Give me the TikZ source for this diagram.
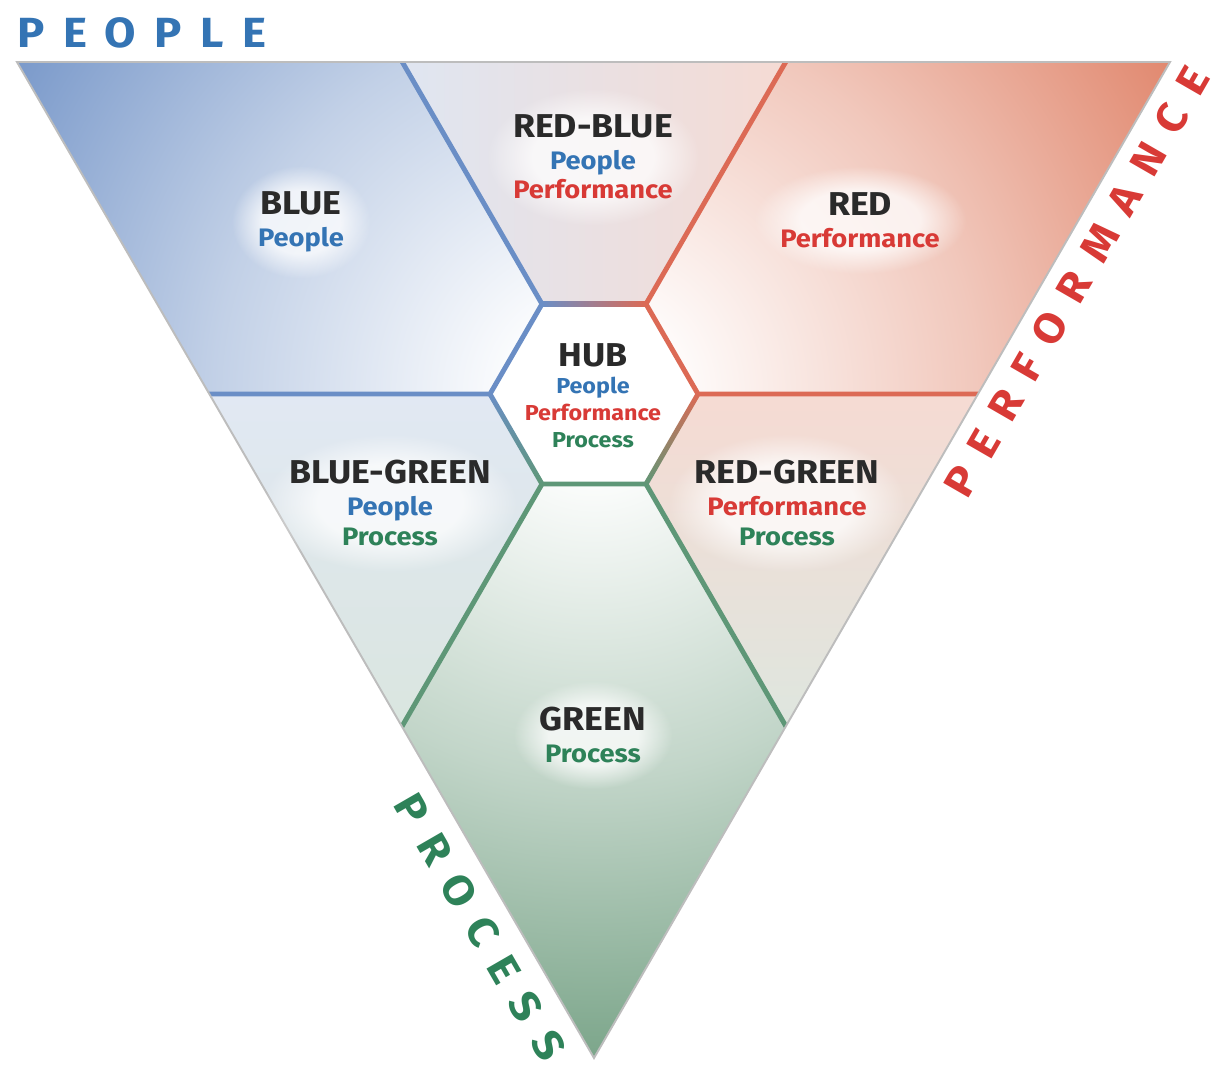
\documentclass[tikz,border=0pt]{standalone}
\usepackage{fontspec}
\setmainfont{Fira Sans}[FakeStretch=1.08]
\newfontfamily\spacedfont{Fira Sans}[FakeStretch=1.08,LetterSpace=44]
\usetikzlibrary{calc,fadings}

\definecolor{darktext}{HTML}{2A2A2A}
\definecolor{peopletext}{HTML}{3474B4}
\definecolor{perftext}{HTML}{D83A36}
\definecolor{proctext}{HTML}{2E8259}
\definecolor{lineblue}{HTML}{6A8EC6}
\definecolor{linered}{HTML}{DC6A55}
\definecolor{linegreen}{HTML}{5E9777}
\definecolor{fillblue}{HTML}{7797C9}
\definecolor{fillred}{HTML}{E0856B}
\definecolor{fillgreen}{HTML}{78A387}
\definecolor{edgegray}{HTML}{BDBDBD}

% the shaded path's box maps to 25bp
\pgfdeclareradialshading{glowblue}{\pgfpointorigin}{color(0bp)=(white); color(2.5bp)=(white); color(14bp)=(fillblue!45!white); color(25bp)=(fillblue); color(50bp)=(fillblue)}
\pgfdeclareradialshading{glowred}{\pgfpointorigin}{color(0bp)=(white); color(2.5bp)=(white); color(14bp)=(fillred!45!white); color(25bp)=(fillred); color(50bp)=(fillred)}
\pgfdeclareradialshading{glowgreen}{\pgfpointorigin}{color(0bp)=(white); color(2.5bp)=(white); color(14bp)=(fillgreen!45!white); color(25bp)=(fillgreen); color(50bp)=(fillgreen)}
% soft halo behind the labels
\pgfdeclareradialshading{halo}{\pgfpointorigin}{color(0bp)=(white); color(14bp)=(white); color(25bp)=(black); color(50bp)=(black)}
\pgfdeclarefading{softhalo}{\pgfuseshading{halo}}

\newcommand{\regtitle}[1]{{\fontsize{18.8}{18.8}\selectfont\textcolor{darktext}{#1}}}

\begin{document}
\begin{tikzpicture}[x=0.02cm,y=-0.02cm,
    region/.style={align=center,inner sep=15pt,font=\fontsize{14.4}{17}\selectfont\bfseries,
        preaction={fill=white,fill opacity=0.75,path fading=softhalo}},
    hubtext/.style={align=center,inner sep=0pt,font=\fontsize{12.3}{15.3}\selectfont\bfseries},
    sideline/.style={line width=2.8pt,line join=miter},
    biglabel/.style={inner sep=0pt,font=\fontsize{24}{24}\selectfont\spacedfont\bfseries}]
    \useasboundingbox (0,0) rectangle (1232,1080);

    % triangle and hub
    \coordinate (T1) at (17,62);
    \coordinate (T2) at (1170,62);
    \coordinate (T3) at (594,1058);
    \coordinate (hubc) at (594,394);
    \coordinate (h1) at (542,304);
    \coordinate (h2) at (646,304);
    \coordinate (h3) at (698,394);
    \coordinate (h4) at (646,484);
    \coordinate (h5) at (542,484);
    \coordinate (h6) at (490,394);
    \coordinate (a1) at (389.6,40);
    \coordinate (a2) at (798.4,40);
    \coordinate (b1) at (180,394);
    \coordinate (b2) at (1010,394);
    \coordinate (c1) at (382.6,760);
    \coordinate (c2) at (805.4,760);

    \begin{scope}
        \clip (T1) -- (T2) -- (T3) -- cycle;
        % blue
        \begin{scope}
            \clip (0,40) -- (a1) -- (h1) -- (h6) -- (0,394) -- cycle;
            \shade[shading=glowblue] (hubc) circle (680);
        \end{scope}
        % red
        \begin{scope}
            \clip (a2) -- (1232,40) -- (1232,394) -- (h3) -- (h2) -- cycle;
            \shade[shading=glowred] (hubc) circle (680);
        \end{scope}
        % green
        \begin{scope}
            \clip (c1) -- (h5) -- (h4) -- (c2) -- (594,1100) -- cycle;
            \shade[shading=glowgreen] (hubc) circle (680);
        \end{scope}
        % mixed
        \shade[left color=fillblue!24!white,middle color=white!92!fillred,right color=fillred!30!white]
            (a1) -- (a2) -- (h2) -- (h1) -- cycle;
        \shade[top color=fillblue!22!white,middle color=white!94!fillblue,bottom color=fillgreen!28!white]
            (0,394) -- (h6) -- (h5) -- (c1) -- cycle;
        \shade[top color=fillred!30!white,middle color=white!94!fillred,bottom color=fillgreen!26!white]
            (h3) -- (1232,394) -- (c2) -- (h4) -- cycle;
        \fill[white] (h1) -- (h2) -- (h3) -- (h4) -- (h5) -- (h6) -- cycle;

        \draw[sideline,lineblue] (a1) -- (h1) -- (h6) -- (b1);
        \draw[sideline,linered] (a2) -- (h2) -- (h3) -- (b2);
        \draw[sideline,linegreen] (c1) -- (h5) -- (h4) -- (c2);
        % two-coloured hub edges
        \shade[left color=lineblue,right color=linered]
            ($(h1)!1.4pt!90:(h2)$) -- ($(h1)!1.4pt!-90:(h2)$) -- ($(h2)!1.4pt!90:(h1)$) -- ($(h2)!1.4pt!-90:(h1)$) -- cycle;
        \shade[top color=linered,bottom color=linegreen]
            ($(h3)!1.4pt!90:(h4)$) -- ($(h3)!1.4pt!-90:(h4)$) -- ($(h4)!1.4pt!90:(h3)$) -- ($(h4)!1.4pt!-90:(h3)$) -- cycle;
        \shade[top color=lineblue,bottom color=linegreen]
            ($(h6)!1.4pt!90:(h5)$) -- ($(h6)!1.4pt!-90:(h5)$) -- ($(h5)!1.4pt!90:(h6)$) -- ($(h5)!1.4pt!-90:(h6)$) -- cycle;
    \end{scope}
    \draw[edgegray,line width=1.1pt] (T1) -- (T2) -- (T3) -- cycle;

    % region labels
    \node[region] (blue) at (301,222) {\regtitle{BLUE}\\[1pt]\textcolor{peopletext}{People}};
    \node[region] (redblue) at (593,157) {\regtitle{RED-BLUE}\\[1pt]\textcolor{peopletext}{People}\\\textcolor{perftext}{Performance}};
    \node[region] (red) at (860,220) {\regtitle{RED}\\[1pt]\textcolor{perftext}{Performance}};
    \node[hubtext] (hub) at (593,396) {\regtitle{HUB}\\\textcolor{peopletext}{People}\\\textcolor{perftext}{Performance}\\\textcolor{proctext}{Process}};
    \node[region] (bluegreen) at (390,503) {\regtitle{BLUE-GREEN}\\[1pt]\textcolor{peopletext}{People}\\\textcolor{proctext}{Process}};
    \node[region] (redgreen) at (787,503) {\regtitle{RED-GREEN}\\[1pt]\textcolor{perftext}{Performance}\\\textcolor{proctext}{Process}};
    \node[region] (green) at (593,735) {\regtitle{GREEN}\\[1pt]\textcolor{proctext}{Process}};

    % side labels
    \node[biglabel,text=peopletext] (people) at (142,33) {PEOPLE};
    \node[biglabel,text=perftext,rotate=60] (performance) at (1077,282) {PERFORMANCE};
    \node[biglabel,text=proctext,rotate=-60] (process) at (480,927) {PROCESS};
\end{tikzpicture}
\end{document}
